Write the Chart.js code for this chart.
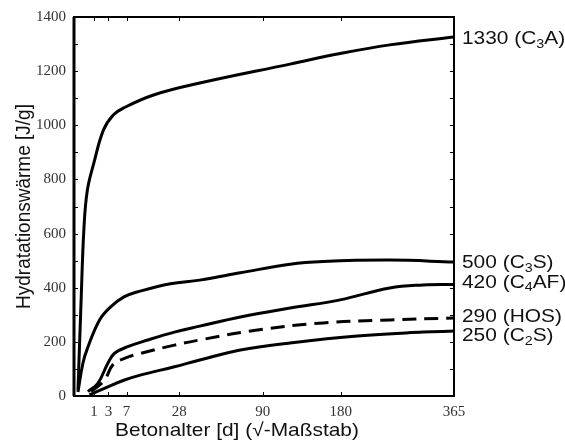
<!DOCTYPE html>
<html>
<head>
<meta charset="utf-8">
<script src="https://cdn.jsdelivr.net/npm/chart.js@4/dist/chart.umd.min.js"></script>
<style>
  body { margin: 0; background: #fff; }
  #wrap { width: 565px; height: 446px; }
</style>
</head>
<body>
<div id="wrap"><canvas id="heatChart"></canvas></div>
<script>
/* data: age in days, heat in J/g */
const dayTicks = [1, 3, 7, 28, 90, 180, 365];

const c3aDays = [0.04, 0.12, 0.25, 0.45, 1.0, 2.2, 3.9, 6.2, 16, 40, 118, 179, 252, 365];
const c3aHeat = [22, 330, 620, 760, 861, 983, 1038, 1064, 1112, 1156, 1226, 1265, 1297, 1326];

const c3sDays = [0.04, 0.2, 0.45, 1.65, 3.4, 6.3, 10, 23.5, 40, 70, 118, 157, 253, 365];
const c3sHeat = [15, 121, 175, 281, 329, 366, 384, 415, 428, 455, 487, 497, 502, 495];

const c4afDays = [0.49, 1.44, 2.9, 4.15, 7.3, 13.8, 25.5, 40, 70, 118, 179, 252, 308, 365];
const c4afHeat = [16, 47, 121, 158, 182, 207, 236, 258, 292, 325, 355, 399, 410, 412];

const hosDays = [0.75, 2.36, 3.8, 6.45, 11.4, 25.5, 40, 85, 157, 253, 365];
const hosHeat = [16, 59, 115, 139, 158, 188, 207, 244, 270, 281, 288];

const c2sDays = [0.6, 2.9, 6.45, 11.4, 25.5, 40, 70, 118, 203, 308, 365];
const c2sHeat = [4, 34, 59, 78, 108, 133, 170, 196, 222, 236, 240];

// "_" marks the next character as subscript
const endLabels = ["1330 (C_3A)", "500 (C_3S)", "420 (C_4AF)", "290 (HOS)", "250 (C_2S)"];
const labelNudge = [2, 1, -2, -1, 5];

/* square-root day axis */
class SqrtScale extends Chart.LinearScale {
    buildTicks() {
        return dayTicks.map(v => ({ value: v }));
    }
    getPixelForValue(v) {
        const a = Math.sqrt(this.min), b = Math.sqrt(this.max);
        return this.getPixelForDecimal((Math.sqrt(Math.max(v, 0)) - a) / (b - a));
    }
    getValueForPixel(p) {
        const a = Math.sqrt(this.min), b = Math.sqrt(this.max);
        const s = a + this.getDecimalForPixel(p) * (b - a);
        return s * s;
    }
}
SqrtScale.id = "sqrt";
SqrtScale.defaults = Chart.LinearScale.defaults;
Chart.register(SqrtScale);

const pts = (days, heat) => days.map((d, i) => ({ x: d, y: heat[i] }));
const curve = (days, heat, dash) => ({
    data: pts(days, heat),
    borderColor: "#000",
    borderWidth: 3,
    borderDash: dash || [],
    pointRadius: 0,
    tension: 0.4,
    fill: false
});

function drawStretched(ctx, parts, x, y, sx) {
    ctx.save();
    ctx.translate(x, y);
    ctx.scale(sx, 1);
    let cx = 0;
    parts.forEach(p => {
        ctx.font = p.sub ? "13px 'Liberation Sans'" : "19px 'Liberation Sans'";
        ctx.fillText(p.t, cx, p.sub ? 5 : 0);
        cx += ctx.measureText(p.t).width;
    });
    ctx.restore();
}

function splitSub(s) {
    const out = [];
    let buf = "";
    for (let i = 0; i < s.length; i++) {
        if (s[i] === "_") {
            if (buf) out.push({ t: buf });
            buf = "";
            out.push({ t: s[i + 1], sub: true });
            i++;
        } else buf += s[i];
    }
    if (buf) out.push({ t: buf });
    return out;
}

const frame = {
    id: "frame",
    afterDraw(chart) {
        const { ctx, chartArea: a, scales } = chart;
        const x = scales.x, y = scales.y;
        ctx.save();
        ctx.strokeStyle = "#000";
        // inner tick marks
        ctx.lineWidth = 1;
        ctx.beginPath();
        for (let v = 100; v < 1400; v += 100) {
            const py = Math.round(y.getPixelForValue(v)) + 0.5;
            ctx.moveTo(a.left, py); ctx.lineTo(a.left + 4, py);
            ctx.moveTo(a.right, py); ctx.lineTo(a.right - 4, py);
        }
        dayTicks.slice(0, -1).forEach(d => {
            const px = Math.round(x.getPixelForValue(d)) + 0.5;
            ctx.moveTo(px, a.bottom); ctx.lineTo(px, a.bottom - 4);
            ctx.moveTo(px, a.top); ctx.lineTo(px, a.top + 4);
        });
        ctx.stroke();
        // box
        ctx.lineWidth = 2;
        ctx.strokeRect(a.left, a.top, a.right - a.left, a.bottom - a.top);
        ctx.lineWidth = 3;
        ctx.beginPath();
        ctx.moveTo(a.left, a.top); ctx.lineTo(a.left, a.bottom);
        ctx.stroke();

        // end labels
        ctx.fillStyle = "#111";
        ctx.textBaseline = "middle";
        ctx.textAlign = "left";
        chart.data.datasets.forEach((ds, i) => {
            const last = ds.data[ds.data.length - 1];
            const py = y.getPixelForValue(last.y) + labelNudge[i];
            drawStretched(ctx, splitSub(endLabels[i]), a.right + 8, py, 1.1);
        });

        // axis titles
        ctx.font = "19px 'Liberation Sans'";
        const xt = "Betonalter [d] (\u221A-Maßstab)";
        const w = ctx.measureText(xt).width * 1.1;
        drawStretched(ctx, [{ t: xt }], 237 - w / 2, 431, 1.1);

        ctx.save();
        ctx.translate(24, (a.top + a.bottom) / 2);
        ctx.rotate(-Math.PI / 2);
        ctx.scale(1, 1.1);
        ctx.textAlign = "center";
        ctx.font = "19px 'Liberation Sans'";
        ctx.fillText("Hydratationswärme [J/g]", 0, 0);
        ctx.restore();
        ctx.restore();
    }
};

new Chart(document.getElementById("heatChart"), {
    type: "line",
    data: {
        datasets: [
            curve(c3aDays, c3aHeat),
            curve(c3sDays, c3sHeat),
            curve(c4afDays, c4afHeat),
            curve(hosDays, hosHeat, [14, 8]),
            curve(c2sDays, c2sHeat)
        ]
    },
    options: {
        responsive: true,
        maintainAspectRatio: false,
        animation: false,
        layout: { padding: { left: 34, right: 111, top: 17, bottom: 0 } },
        plugins: { legend: { display: false }, tooltip: { enabled: false } },
        scales: {
            x: {
                type: "sqrt",
                min: 0,
                max: 365,
                grid: { display: false, drawTicks: false },
                border: { display: false },
                ticks: {
                    autoSkip: false,
                    maxRotation: 0,
                    padding: 7,
                    color: "#333",
                    font: { family: "'Liberation Serif'", size: 15 },
                    callback: v => String(v)
                },
                afterFit: s => { s.height = 50; }
            },
            y: {
                min: 0,
                max: 1400,
                grid: { display: false, drawTicks: false },
                border: { display: false },
                ticks: {
                    stepSize: 200,
                    padding: 8,
                    color: "#333",
                    font: { family: "'Liberation Serif'", size: 15 },
                    callback: v => String(v)
                },
                afterFit: s => { s.width = 40; }
            }
        }
    },
    plugins: [frame]
});
</script>
</body>
</html>
